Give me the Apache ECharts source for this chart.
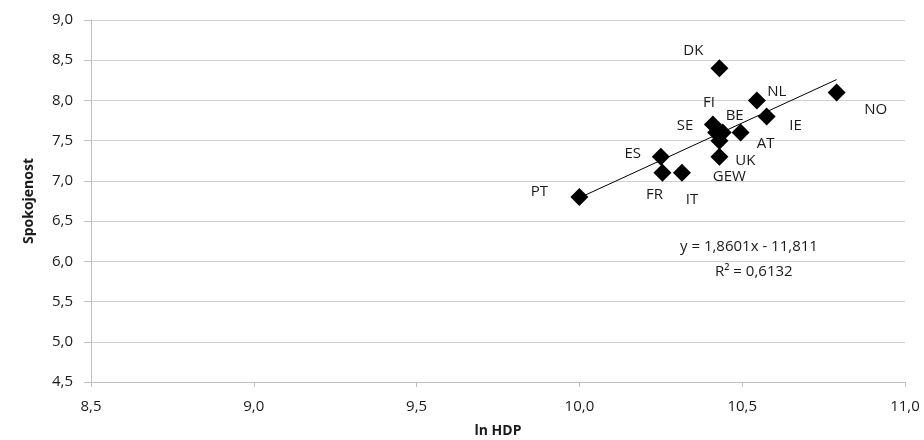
<!DOCTYPE html>
<html><head><meta charset="utf-8">
<script src="https://cdn.jsdelivr.net/npm/echarts@6/dist/echarts.min.js"></script>
<style>html,body{margin:0;padding:0;background:#fff}#c{width:924px;height:440px}</style>
</head><body><div id="c"></div>
<script>
// Data
var countries = ['DK','NL','NO','IE','AT','FI','BE','SE','GEW','UK','ES','FR','IT','PT'];
var lnHDP     = [10.43, 10.545, 10.79, 10.575, 10.495, 10.41, 10.44, 10.42, 10.43, 10.43, 10.25, 10.255, 10.315, 10.0];
var spokojenost = [8.4, 8.0, 8.1, 7.8, 7.6, 7.7, 7.6, 7.6, 7.5, 7.3, 7.3, 7.1, 7.1, 6.8];
var slope = 1.8601, intercept = -11.811;
var eqText = 'y = 1,8601x - 11,811';
var r2Text = 'R² = 0,6132';
var xTicks = [8.5, 9.0, 9.5, 10.0, 10.5, 11.0];
var yTicks = [4.5, 5.0, 5.5, 6.0, 6.5, 7.0, 7.5, 8.0, 8.5, 9.0];

// label offsets (style)
var labelOffsets = {
  DK:[-26,-18], NL:[20,-9], NO:[39,17], IE:[29,9], AT:[25,11], FI:[-4,-22],
  BE:[12,-17], SE:[-31,-7], GEW:[10,36], UK:[26,4], ES:[-28,-3], FR:[-8,22],
  IT:[10,27], PT:[-40,-5]
};

var fmt = function(v){ return v.toFixed(1).replace('.', ','); };
var font = 'Open Sans';
var txt = '#1a1a1a';

var pts = countries.map(function(c,i){
  return { value:[lnHDP[i], spokojenost[i]], name:c,
    label:{ show:true, position:'inside', offset:labelOffsets[c], formatter:c,
      color:txt, fontSize:15, fontFamily:font } };
});
var xmin = Math.min.apply(null, lnHDP), xmax = Math.max.apply(null, lnHDP);
var trend = [[xmin, slope*xmin+intercept],[xmax, slope*xmax+intercept]];

var chart = echarts.init(document.getElementById('c'));
chart.setOption({
  animation:false,
  grid:{left:91, right:19, top:20, bottom:58, containLabel:false, outerBoundsMode:'none'},
  xAxis:{ type:'value', min:xTicks[0], max:xTicks[xTicks.length-1], interval:0.5,
    name:'ln HDP', nameLocation:'middle', nameGap:42,
    nameTextStyle:{fontFamily:font, fontWeight:'bold', fontSize:14, color:txt},
    axisLine:{show:true, lineStyle:{color:'#bfbfbf'}},
    axisTick:{show:true, length:5, lineStyle:{color:'#bfbfbf'}},
    splitLine:{show:false},
    axisLabel:{formatter:fmt, fontFamily:font, fontSize:15, color:txt, margin:17}
  },
  yAxis:{ type:'value', min:yTicks[0], max:yTicks[yTicks.length-1], interval:0.5,
    name:'Spokojenost', nameLocation:'middle', nameGap:55, nameRotate:90,
    nameTextStyle:{fontFamily:font, fontWeight:'bold', fontSize:14, color:txt},
    axisLine:{show:true, lineStyle:{color:'#bfbfbf'}},
    axisTick:{show:true, length:7, lineStyle:{color:'#bfbfbf'}},
    splitLine:{show:true, lineStyle:{color:'#d0d0d0'}},
    axisLabel:{formatter:fmt, fontFamily:font, fontSize:15, color:txt, margin:18}
  },
  series:[
    { type:'line', data:trend, symbol:'none', lineStyle:{color:'#000', width:1}, z:3, silent:true },
    { type:'scatter', data:pts, symbol:'diamond', symbolSize:18, itemStyle:{color:'#000', opacity:1}, z:4 }
  ],
  graphic:[
    { type:'text', left:680, top:239, style:{text:eqText, font:'15px "Open Sans"', fill:txt} },
    { type:'text', left:715, top:264, style:{text:r2Text, font:'15px "Open Sans"', fill:txt} }
  ]
});
</script></body></html>
